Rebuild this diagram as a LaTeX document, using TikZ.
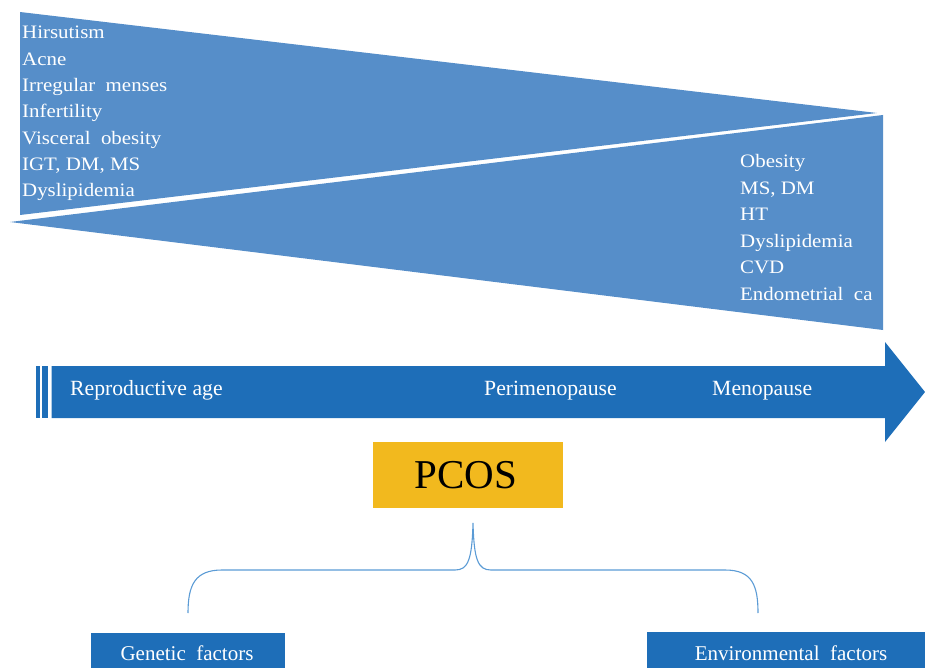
\documentclass[tikz,border=0pt]{standalone}
\usepackage{fontspec}
\setmainfont{Liberation Serif}
\newfontfamily\listfont{Liberation Serif}[FakeStretch=1.1]
\definecolor{tri}{RGB}{86,142,201}
\definecolor{arr}{RGB}{30,110,184}
\definecolor{gold}{RGB}{242,185,30}
\definecolor{bracec}{RGB}{91,155,213}
\begin{document}
\begin{tikzpicture}[x=1pt,y=-1pt,
  listtxt/.style={anchor=base west, text=white, inner sep=0pt, font=\listfont\fontsize{19}{19}\selectfont},
  arrtxt/.style={anchor=base west, text=white, inner sep=0pt, font=\fontsize{21.7}{21.7}\selectfont},
  boxtxt/.style={anchor=base, text=white, inner sep=0pt, font=\fontsize{21}{21}\selectfont},
  bluebox/.style={fill=arr, inner sep=0pt, anchor=north west}]
\useasboundingbox (0,0) rectangle (925,668);
% upper and lower wedges
\fill[tri] (20,12) -- (877,113) -- (20,215) -- cycle;
\fill[tri] (10,222) -- (883,115) -- (883,330) -- cycle;
% left list
\foreach \t [count=\i] in {Hirsutism, Acne, Irregular\ \ menses, Infertility, Visceral\ \ obesity, {IGT, DM, MS}, Dyslipidemia}
  \node[listtxt] (L\i) at (22,{39+26.3*(\i-1)}) {\t};
% right list
\foreach \t [count=\i] in {Obesity, {MS, DM}, HT, Dyslipidemia, CVD, Endometrial\ \ ca}
  \node[listtxt] (R\i) at (740,{168+26.4*(\i-1)}) {\t};
% timeline arrow
\fill[arr] (36,366) rectangle (40,418);
\fill[arr] (42.3,366) rectangle (48.3,418);
\fill[arr] (51.7,366) -- (885,366) -- (885,342) -- (925,392) -- (885,442) -- (885,418) -- (51.7,418) -- cycle;
\node[arrtxt] (rep) at (70,395) {Reproductive age};
\node[arrtxt] (peri) at (484,395) {Perimenopause};
\node[arrtxt] (meno) at (712,395) {Menopause};
% PCOS
\node[fill=gold, minimum width=190pt, minimum height=66pt, inner sep=0pt] (pcos) at (468,475) {};
\node[anchor=base, inner sep=0pt, font=\fontsize{41}{41}\selectfont] (pcostxt) at (466,488) {PCOS};
% brace
\draw[bracec, line width=1.1pt] (188,613) .. controls (188,585) and (195,570) .. (222,570) -- (455,570)
  .. controls (468,570) and (472,560) .. (473,523)
  .. controls (474,560) and (478,570) .. (491,570) -- (725,570)
  .. controls (752,570) and (758,585) .. (758,613);
% bottom boxes
\node[bluebox, minimum width=194pt, minimum height=40pt] (genbox) at (91,633) {};
\node[boxtxt] (gentxt) at (187,660) {Genetic\ \ factors};
\node[bluebox, minimum width=280pt, minimum height=40pt] (envbox) at (647,632) {};
\node[boxtxt] (envtxt) at (791,660) {Environmental\ \ factors};
\end{tikzpicture}
\end{document}
